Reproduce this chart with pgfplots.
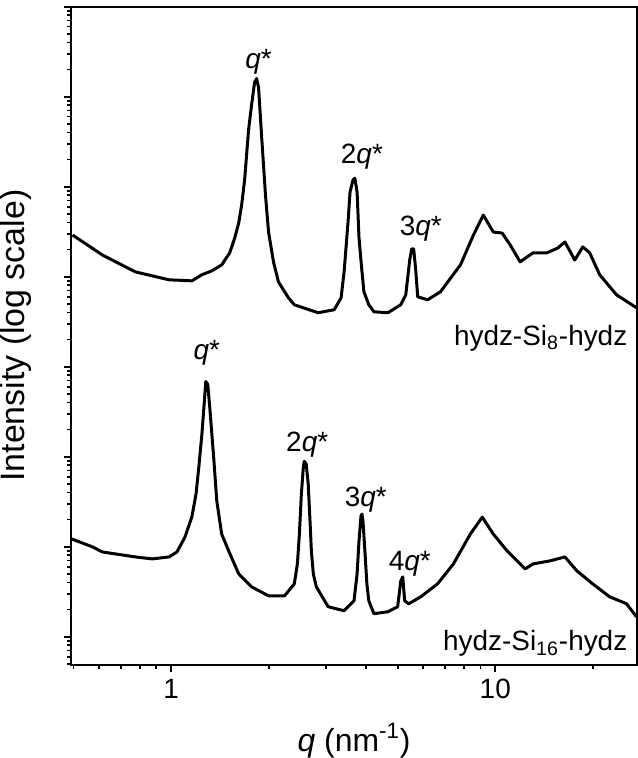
\documentclass[border=0pt]{standalone}
\usepackage{pgfplots}
\pgfplotsset{compat=1.18}
\usepackage{fontspec}
\setmainfont{Liberation Sans}
\begin{document}
\begin{tikzpicture}
\begin{axis}[
  scale only axis,
  width=283.5pt, height=330pt,
  xmode=log, ymode=log,
  xmin=0.493, xmax=27.3,
  ymin=0.49, ymax=1e7,
  axis line style={line width=1pt},
  every tick/.style={black, line width=0.9pt},
  tick align=outside,
  xtick pos=bottom, ytick pos=left,
  major tick length=3.75pt, minor tick length=2.2pt,
  xtick={1,10}, xticklabels={1,10},
  minor xtick={0.5,0.6,0.7,0.8,0.9,2,3,4,5,6,7,8,9,20},
  ytick={1,10,100,1000,10000,100000,1000000,10000000},
  yticklabels={,,,,,,,},
  minor ytick={0.5,0.6,0.7,0.8,0.9,2,3,4,5,6,7,8,9,20,30,40,50,60,70,80,90,200,300,400,500,600,700,800,900,2000,3000,4000,5000,6000,7000,8000,9000,2e4,3e4,4e4,5e4,6e4,7e4,8e4,9e4,2e5,3e5,4e5,5e5,6e5,7e5,8e5,9e5,2e6,3e6,4e6,5e6,6e6,7e6,8e6,9e6},
  tick label style={font=\fontsize{14}{16}\selectfont},
  xlabel={\textit{q} (nm\textsuperscript{-1})},
  ylabel={Intensity (log scale)},
  xlabel style={font=\fontsize{16}{18}\selectfont, at={(axis description cs:0.5,-0.132)}, anchor=base, inner sep=0pt},
  ylabel style={font=\fontsize{17}{19}\selectfont, at={(axis description cs:-0.083,0.5)}, anchor=base, inner sep=0pt},
]
% upper curve: hydz-Si8-hydz
\addplot[black, line width=1.5pt, line join=round] coordinates {
(0.497,2.90e4) (0.614,1.74e4) (0.776,1.13e4) (0.986,9.22e3) (1.159,8.98e3)
(1.245,1.05e4) (1.336,1.16e4) (1.433,1.35e4) (1.517,1.84e4) (1.572,2.69e4)
(1.617,3.94e4) (1.651,6.24e4) (1.686,1.18e5) (1.710,2.23e5) (1.734,4.23e5)
(1.771,8.00e5) (1.810,1.44e6) (1.836,1.59e6) (1.862,1.26e6) (1.902,3.72e5)
(1.956,8.05e4) (1.999,3.13e4) (2.070,1.46e4) (2.144,8.75e3) (2.302,5.82e3)
(2.400,4.87e3) (2.843,3.97e3) (3.186,4.29e3) (3.346,5.82e3) (3.418,1.13e4)
(3.515,4.04e4) (3.565,8.69e4) (3.640,1.18e5) (3.690,1.24e5) (3.749,8.69e4)
(3.800,2.69e4) (3.882,1.13e4) (3.935,6.79e3) (4.074,4.87e3)
(4.224,4.07e3) (4.665,3.97e3) (5.112,4.87e3) (5.296,6.28e3) (5.447,1.53e4)
(5.524,2.03e4) (5.603,2.03e4) (5.684,1.19e4) (5.765,5.97e3)
(6.184,5.53e3) (6.776,6.79e3) (7.810,1.35e4)
(8.564,2.90e4) (9.187,4.83e4) (9.862,3.13e4) (10.50,3.05e4) (11.12,2.25e4)
(11.93,1.46e4) (13.08,1.84e4) (14.44,1.84e4) (15.60,2.08e4) (16.40,2.43e4)
(17.59,1.53e4) (18.62,2.14e4) (19.55,1.84e4) (20.99,1.05e4) (23.66,6.28e3)
(27.27,4.51e3)
};
% lower curve: hydz-Si16-hydz
\addplot[black, line width=1.5pt, line join=round] coordinates {
(0.493,12.2) (0.573,9.93) (0.614,8.73) (0.776,7.69) (0.875,7.31)
(0.986,7.69) (1.043,8.73) (1.104,12.8) (1.159,21.3) (1.194,38.3)
(1.218,76.3) (1.245,177) (1.280,684) (1.298,634) (1.318,335)
(1.355,93.5) (1.384,32.1) (1.433,13.8) (1.506,8.96) (1.617,4.99)
(1.771,3.58) (1.999,2.84) (2.239,2.84) (2.400,3.86) (2.453,6.43)
(2.488,13.8) (2.523,38.3) (2.559,76.3) (2.576,88.9) (2.612,82.4)
(2.649,49.5) (2.686,17.8) (2.709,8.96) (2.747,4.99) (2.806,3.58)
(3.052,2.15) (3.418,1.94) (3.667,2.50) (3.749,4.99) (3.800,11.6)
(3.854,21.9) (3.882,23.0) (3.911,18.8) (3.963,8.96) (4.018,3.86)
(4.074,2.50) (4.224,1.80) (4.665,1.89) (5.000,2.15) (5.112,4.17)
(5.184,4.62) (5.256,2.50) (5.409,2.32) (5.888,2.77) (6.637,3.86)
(7.430,6.43) (8.377,13.8) (9.120,21.3) (9.862,13.8) (10.88,8.96)
(12.36,5.66) (13.08,6.43) (14.75,6.95) (16.40,7.69) (17.86,5.38)
(19.98,3.86) (22.54,2.77) (25.40,2.32) (27.27,1.66)
};
\begin{scope}[every node/.style={font=\fontsize{14}{16}\selectfont, inner sep=0pt}]
\node[anchor=base] at (axis cs:1.862,2.05e6) {\textit{q}*};
\node[anchor=base] at (axis cs:3.88,1.82e5) {2\textit{q}*};
\node[anchor=base] at (axis cs:5.89,2.90e4) {3\textit{q}*};
\node[anchor=base] at (axis cs:1.289,1.20e3) {\textit{q}*};
\node[anchor=base] at (axis cs:2.63,115) {2\textit{q}*};
\node[anchor=base] at (axis cs:3.99,28.2) {3\textit{q}*};
\node[anchor=base] at (axis cs:5.45,5.38) {4\textit{q}*};
\node[anchor=base east] at (rel axis cs:0.984,0.485) {hydz-Si\textsubscript{8}-hydz};
\node[anchor=base east] at (rel axis cs:0.984,0.021) {hydz-Si\textsubscript{16}-hydz};
\end{scope}
\end{axis}
\end{tikzpicture}
\end{document}
